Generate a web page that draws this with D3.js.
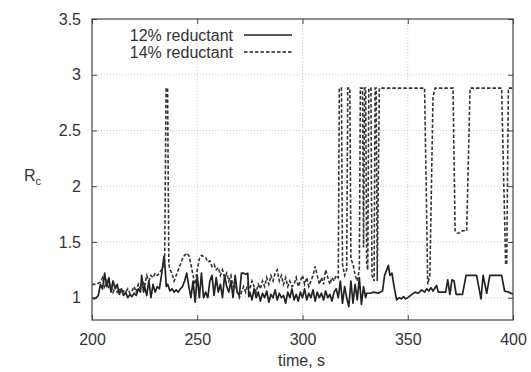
<!DOCTYPE html>
<html>
<head>
<meta charset="utf-8">
<script src="https://cdn.jsdelivr.net/npm/d3@7"></script>
<style>
  body { margin: 0; background: #fff; }
  svg { display: block; font-family: "Liberation Sans", Arial, Helvetica, sans-serif; }
  .axis text { fill: #333; font-size: 16px; }
  .axis line { stroke: #444; }
  .axis .domain { display: none; }
</style>
</head>
<body>
<svg id="chart" width="531" height="372"></svg>
<script>
// ---------- data ----------
const xTicks = [200, 250, 300, 350, 400];
const yTicks = [1, 1.5, 2, 2.5, 3, 3.5];
const seriesNames = ["12% reductant", "14% reductant"];

// 12% reductant: [time, Rc]
const r12 = [
  [200,1.0],[201,0.99],[202,1.0],[203,1.02],[204,1.12],[205,1.08],[206,1.22],[207,1.1],[208,1.18],[209,1.05],
  [210,1.15],[211,1.08],[212,1.12],[213,1.03],[214,1.08],[215,1.02],[216,1.05],[217,1.0],[218,1.03],[219,1.01],
  [220,1.04],[221,1.02],[222,1.08],[223,1.05],[223.6,1.2],[224.5,1.05],[225,1.1],[226,1.02],[227,1.15],[227.5,1.08],
  [228,1.0],[229,1.12],[230,1.05],[231,1.1],[232,1.08],[233,1.2],[234.2,1.37],[234.8,1.25],[235.3,1.1],[236,1.12],
  [237,1.06],[238,1.08],[239,1.05],[240,1.07],[241,1.05],[242,1.08],[243,1.1],[244,1.15],[245,1.22],[246,1.1],
  [247,1.0],[248,1.15],[249,0.96],[250,1.2],[251,1.0],[252,1.22],[253,1.0],[254,1.05],[255,1.0],[256,1.15],
  [257,1.2],[258,1.02],[259,1.18],[260,1.05],[261,1.12],[262,1.0],[263,1.2],[264,1.1],[265,1.05],[266,1.15],
  [267,1.0],[268,1.2],[269,1.05],[270,1.02],[271,1.22],[272,1.22],[273,1.21],[274,1.22],[274.5,1.01],[275,1.05],
  [276,0.98],[277,1.08],[278,1.0],[279,1.05],[280,0.97],[281,1.04],[282,1.0],[283,1.06],[284,0.96],[285,1.03],
  [286,1.0],[287,1.07],[288,0.98],[289,1.04],[290,1.0],[291,1.02],[292,0.95],[293,1.05],[294,1.0],[295,1.08],
  [296,0.98],[297,1.03],[298,0.97],[299,1.05],[300,1.0],[301,1.08],[302,0.98],[303,1.04],[304,1.0],[305,1.07],
  [306,0.97],[307,1.05],[308,1.0],[309,1.04],[310,0.98],[311,1.06],[312,1.0],[313,1.03],[314,0.97],[315,1.05],
  [316,1.08],[317,1.0],[318,1.15],[319,0.95],[320,1.1],[321,1.0],[322,0.92],[323,1.15],[324,0.95],[325,1.12],
  [326,0.98],[327,1.18],[328,0.94],[329,1.1],[330,1.0],[330.5,1.04],[332,1.04],[334,1.05],[336,1.04],[338,1.06],
  [339,1.2],[340,1.25],[340.8,1.29],[341.5,1.2],[342.5,1.22],[343.5,1.1],[344.7,0.98],[346,1.0],[347,0.99],[348,1.01],
  [349,0.99],[350,1.0],[352,1.03],[353.4,1.05],[355,1.04],[356.6,1.07],[358,1.05],[359,1.08],[360,1.06],[361,1.09],
  [362,1.06],[363.7,1.11],[364.5,1.05],[366,1.05],[368,1.05],[369,1.16],[370,1.03],[371,1.16],[372,1.15],[373,1.03],
  [376,1.03],[377.7,1.2],[380,1.2],[382.7,1.2],[384.8,0.99],[385.8,1.2],[387.5,1.04],[389,1.2],[392,1.2],[394.6,1.2],
  [396,1.06],[398,1.05],[400,1.03]
];

// 14% reductant: [time, Rc]
const r14 = [
  [200,1.12],[202,1.12],[204,1.14],[205,1.18],[206,1.1],[207,1.15],[208,1.08],[209,1.12],[210,1.05],[211,1.1],
  [212,1.05],[213,1.08],[214,1.04],[215,1.06],[216,1.05],[217,1.08],[218,1.04],[219,1.06],[220,1.1],[221,1.05],
  [222,1.12],[223,1.08],[224,1.15],[225,1.1],[226,1.2],[227,1.15],[228,1.2],[229,1.18],[230,1.22],[231,1.2],
  [232,1.22],[233,1.25],[234.5,1.3],[235.2,2.88],[235.9,2.88],[236.5,1.3],[237,1.25],[238,1.22],[239,1.15],[240,1.2],
  [241,1.25],[242,1.3],[243,1.35],[244,1.38],[245,1.4],[246,1.38],[247,1.3],[248,1.2],[249,1.12],[250,1.25],
  [251,1.35],[252,1.38],[253,1.37],[254,1.36],[255,1.32],[256,1.33],[257,1.28],[258,1.3],[259,1.25],[260,1.27],
  [261,1.2],[262,1.25],[263,1.18],[264,1.22],[265,1.15],[266,1.2],[267,1.1],[268,1.12],[269,1.05],[270,1.0],
  [271,1.05],[272,1.1],[273,1.05],[274,1.12],[275,1.08],[276,1.15],[277,1.1],[278,1.05],[279,1.12],[280,1.08],
  [281,1.15],[282,1.1],[283,1.18],[284,1.12],[285,1.2],[286,1.15],[287,1.22],[288,1.25],[289,1.15],[290,1.2],
  [291,1.12],[292,1.18],[293,1.1],[294,1.15],[295,1.1],[296,1.12],[297,1.18],[298,1.1],[299,1.15],[300,1.2],
  [301,1.12],[302,1.18],[303,1.1],[304,1.15],[305,1.2],[306,1.28],[307,1.2],[308,1.12],[309,1.18],[310,1.12],
  [311,1.25],[312,1.18],[313,1.12],[314,1.18],[315,1.15],[316,1.2],[317,1.18],[317.5,2.88],[318.5,2.88],[319,1.3],
  [320,1.2],[321,1.25],[321.5,2.88],[322.5,2.88],[323,1.35],[324,1.3],[325,1.2],[326,1.15],[327,1.25],[327.5,2.88],
  [328.5,2.88],[329,1.45],[329.5,2.88],[330,2.88],[330.5,1.3],[331,1.25],[331.5,2.88],[332.5,2.88],[333,1.2],[334,1.15],
  [334.5,2.88],[335,2.88],[335.5,1.15],[336.5,2.88],[358,2.88],[359.5,1.12],[360.5,1.2],[362,2.8],[363,2.88],[371.5,2.88],
  [372.5,1.6],[373.5,1.58],[375,1.58],[376,1.6],[378,1.6],[379.6,2.88],[394.6,2.88],[396.5,1.3],[397,1.3],[397.8,2.88],
  [400,2.88]
];

// ---------- layout ----------
const svg = d3.select("#chart");
const M = { l: 92, r: 18, t: 19, b: 52 };
const W = 531, H = 372;
const w = W - M.l - M.r, h = H - M.t - M.b;
const g = svg.append("g").attr("transform", `translate(${M.l},${M.t})`);

const x = d3.scaleLinear().domain([200, 400]).range([0, w]);
const y = d3.scaleLinear().domain([0.8, 3.5]).range([h, 0]);

// grid (dotted)
g.append("g").selectAll("line.gx")
  .data(xTicks.slice(1, -1))
  .join("line")
  .attr("x1", d => x(d)).attr("x2", d => x(d))
  .attr("y1", 0).attr("y2", h)
  .attr("stroke", "#bbb").attr("stroke-width", 0.8).attr("stroke-dasharray", "1,2");
g.append("g").selectAll("line.gy")
  .data(yTicks.slice(0, -1))
  .join("line")
  .attr("x1", 0).attr("x2", w)
  .attr("y1", d => y(d)).attr("y2", d => y(d))
  .attr("stroke", "#bbb").attr("stroke-width", 0.8).attr("stroke-dasharray", "1,2");

// axes, ticks pointing inward, mirrored on top/right
const xAx = g.append("g").attr("class", "axis")
  .attr("transform", `translate(0,${h})`)
  .call(d3.axisBottom(x).tickValues(xTicks).tickSize(-5).tickPadding(14).tickFormat(d3.format("d")));
xAx.selectAll("text").attr("dy", "0.71em");
g.append("g").attr("class", "axis")
  .call(d3.axisTop(x).tickValues(xTicks).tickSize(-5).tickFormat(""));

g.append("g").attr("class", "axis")
  .call(d3.axisLeft(y).tickValues(yTicks).tickSize(-5).tickPadding(11).tickFormat(d => d));
g.append("g").attr("class", "axis")
  .attr("transform", `translate(${w},0)`)
  .call(d3.axisRight(y).tickValues(yTicks).tickSize(-5).tickFormat(""));

// lines
const line = d3.line().x(d => x(d[0])).y(d => y(d[1]));
g.append("path").datum(r12)
  .attr("d", line).attr("fill", "none")
  .attr("stroke", "#222").attr("stroke-width", 1.7).attr("stroke-linejoin", "round");
g.append("path").datum(r14)
  .attr("d", line).attr("fill", "none")
  .attr("stroke", "#333").attr("stroke-width", 1.6).attr("stroke-dasharray", "3.5,2");

// frame
g.append("rect").attr("width", w).attr("height", h)
  .attr("fill", "none").attr("stroke", "#444").attr("stroke-width", 1.2);

// legend
const lg = g.append("g");
seriesNames.forEach((name, i) => {
  const yy = 16 + i * 17;
  lg.append("text").attr("x", 141).attr("y", yy + 5.5)
    .attr("text-anchor", "end").attr("fill", "#333").style("font-size", "16px").text(name);
  lg.append("line").attr("x1", 152).attr("x2", 200).attr("y1", yy).attr("y2", yy)
    .attr("stroke", "#222").attr("stroke-width", 1.6)
    .attr("stroke-dasharray", i === 0 ? null : "3.5,2");
});

// axis labels
svg.append("text").attr("x", W / 2 + 36).attr("y", 366)
  .attr("text-anchor", "middle").attr("fill", "#333").style("font-size", "16px").text("time, s");
const yl = svg.append("text").attr("x", 24).attr("y", 181).attr("fill", "#333").style("font-size", "16px");
yl.append("tspan").text("R");
yl.append("tspan").attr("dy", 4).style("font-size", "11px").text("c");
</script>
</body>
</html>
